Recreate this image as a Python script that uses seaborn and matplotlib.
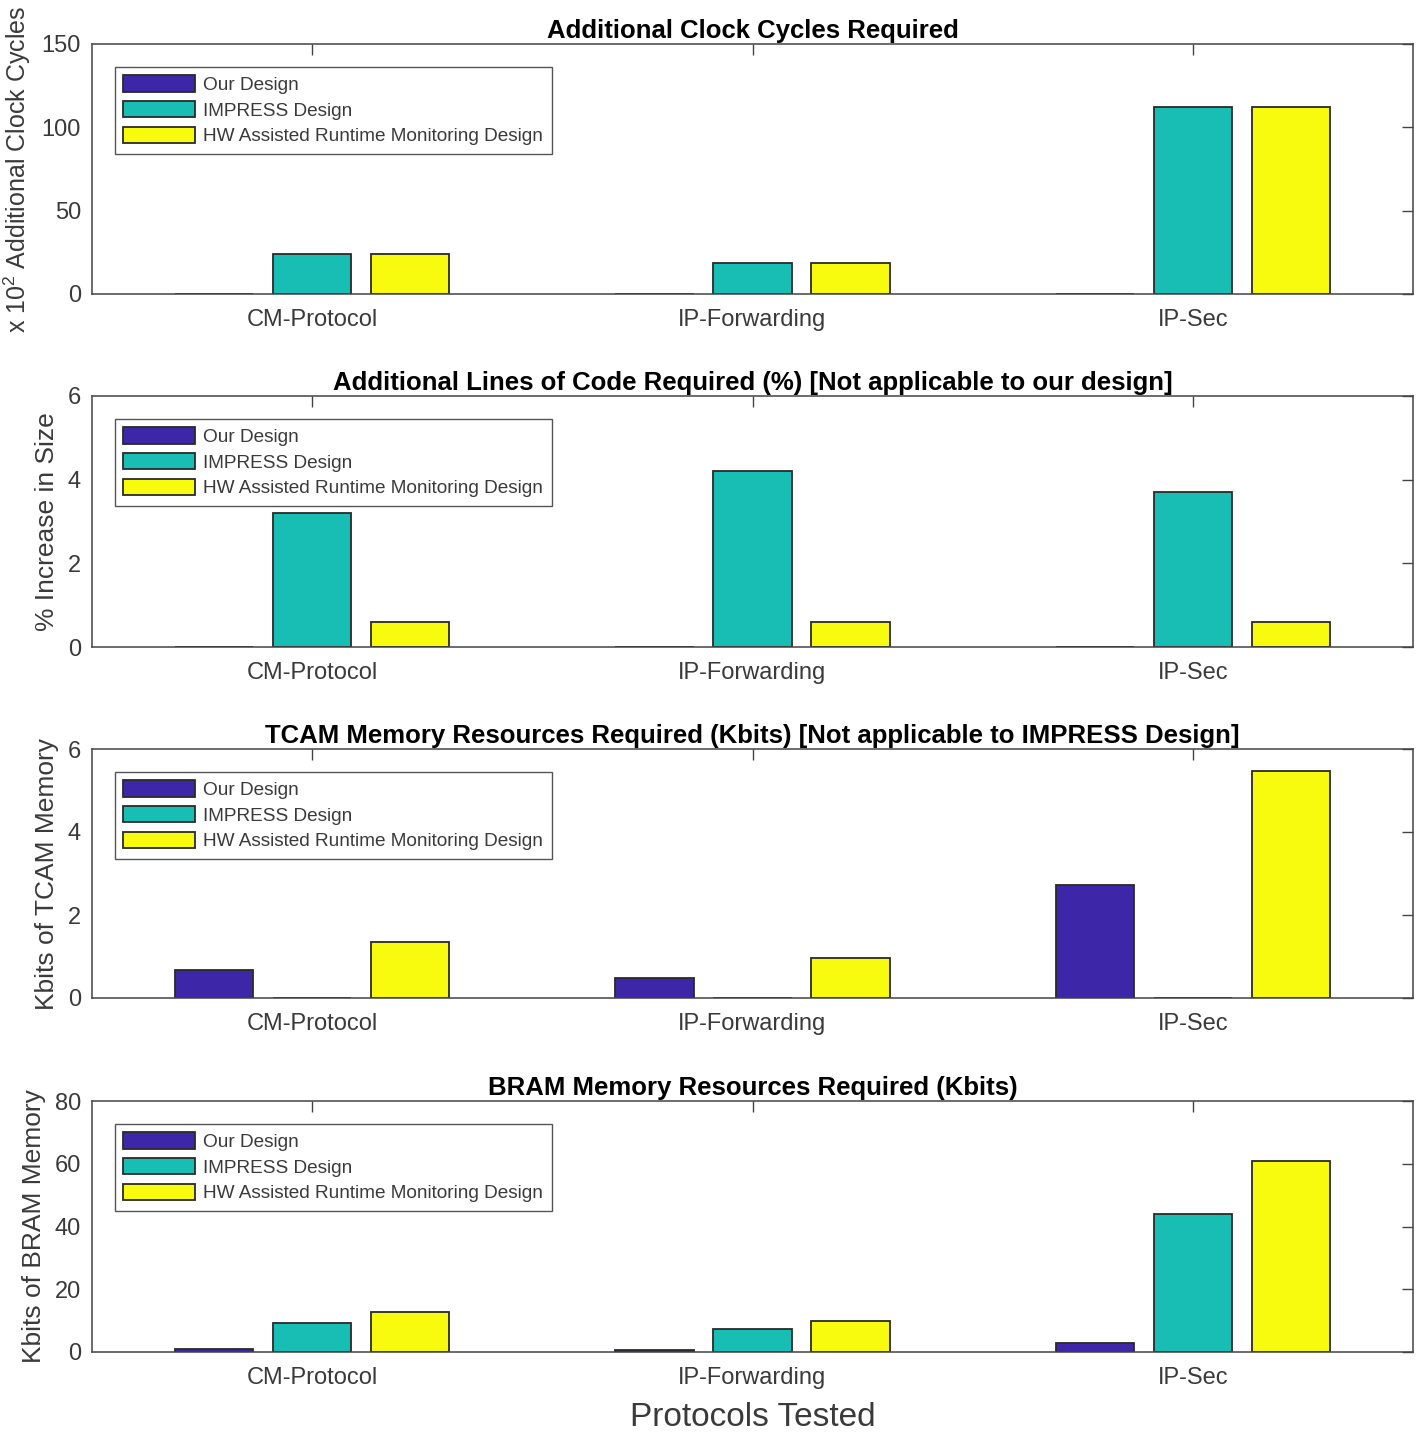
import pandas as pd
import matplotlib
matplotlib.use("Agg")
import matplotlib.pyplot as plt
import seaborn as sns

protocols = ["CM-Protocol", "IP-Forwarding", "IP-Sec"]
designs = ["Our Design", "IMPRESS Design", "HW Assisted Runtime Monitoring Design"]

# additional clock cycles (x 10^2)
cycles_our = [0.3, 0.3, 0.3]
cycles_impress = [24, 18.5, 112]
cycles_hw = [24, 18.5, 112]

# additional lines of code (%)
loc_our = [0, 0, 0]
loc_impress = [3.2, 4.2, 3.7]
loc_hw = [0.6, 0.6, 0.6]

# TCAM memory (Kbits)
tcam_our = [0.67, 0.48, 2.72]
tcam_impress = [0, 0, 0]
tcam_hw = [1.35, 0.96, 5.47]

# BRAM memory (Kbits)
bram_our = [1.0, 0.6, 2.9]
bram_impress = [9.2, 7.3, 44]
bram_hw = [12.7, 9.9, 60.8]

titles = ["Additional Clock Cycles Required",
          "Additional Lines of Code Required (%) [Not applicable to our design]",
          "TCAM Memory Resources Required (Kbits) [Not applicable to IMPRESS Design]",
          "BRAM Memory Resources Required (Kbits)"]
ylabels = [r"x 10$^2$ Additional Clock Cycles", "% Increase in Size",
           "Kbits of TCAM Memory", "Kbits of BRAM Memory"]
ylabel_sizes = [18, 19, 19, 19]
yticks = [[0, 50, 100, 150], [0, 2, 4, 6], [0, 2, 4, 6], [0, 20, 40, 60, 80]]

panels = [(cycles_our, cycles_impress, cycles_hw),
          (loc_our, loc_impress, loc_hw),
          (tcam_our, tcam_impress, tcam_hw),
          (bram_our, bram_impress, bram_hw)]

palette = ["#3E26A8", "#18BEB4", "#F9FB0E"]

sns.set_theme(style="white")
plt.rcParams['font.family'] = ['Liberation Sans', 'DejaVu Sans']
plt.rcParams['mathtext.fontset'] = 'custom'
plt.rcParams['mathtext.rm'] = 'Liberation Sans'

fig = plt.figure(figsize=(14.18, 14.38), dpi=100)
W, H = 1418, 1438
left, right = 92, 1413
tops = [44, 396, 749, 1101]
bottoms = [294, 647, 998, 1352]
axcol = "#444444"
txtcol = "#3a3a3a"

for i, (vals, title, ylab, yt) in enumerate(zip(panels, titles, ylabels, yticks)):
    ax = fig.add_axes([left / W, 1 - bottoms[i] / H, (right - left) / W,
                       (bottoms[i] - tops[i]) / H])
    df = pd.DataFrame({
        "protocol": protocols * 3,
        "design": [d for d in designs for _ in protocols],
        "value": list(vals[0]) + list(vals[1]) + list(vals[2]),
    })
    sns.barplot(data=df, x="protocol", y="value", hue="design", hue_order=designs,
                palette=palette, saturation=1, width=0.667, gap=0.2,
                edgecolor="#2a2a2a", linewidth=1.3, ax=ax)
    ax.set_xlim(-0.5, 2.5)
    ax.set_ylim(yt[0], yt[-1])
    ax.set_yticks(yt)
    ax.set_title(title, fontsize=18.5, fontweight="bold", pad=4, color="black")
    ax.set_ylabel(ylab, fontsize=ylabel_sizes[i], color=txtcol, labelpad=6)
    ax.set_xlabel("")
    ax.tick_params(direction="in", top=True, right=True, length=8, width=1,
                   color=axcol, labelcolor=txtcol, labelsize=17)
    ax.tick_params(axis="x", pad=11)
    ax.tick_params(axis="y", pad=8)
    for sp in ax.spines.values():
        sp.set_visible(True)
        sp.set_color(axcol)
        sp.set_linewidth(1.1)
    leg = ax.legend(loc="upper left", fontsize=13.7, fancybox=False, framealpha=1,
                    edgecolor="#555555", handlelength=3.75, handleheight=0.95,
                    borderaxespad=1.2, labelspacing=0.36, handletextpad=0.45,
                    borderpad=0.45)
    leg.get_frame().set_linewidth(1.0)
    for t in leg.get_texts():
        t.set_color(txtcol)
    if i == 3:
        ax.set_xlabel("Protocols Tested", fontsize=24, color=txtcol, labelpad=9)

fig.savefig("out.png", dpi=100)
